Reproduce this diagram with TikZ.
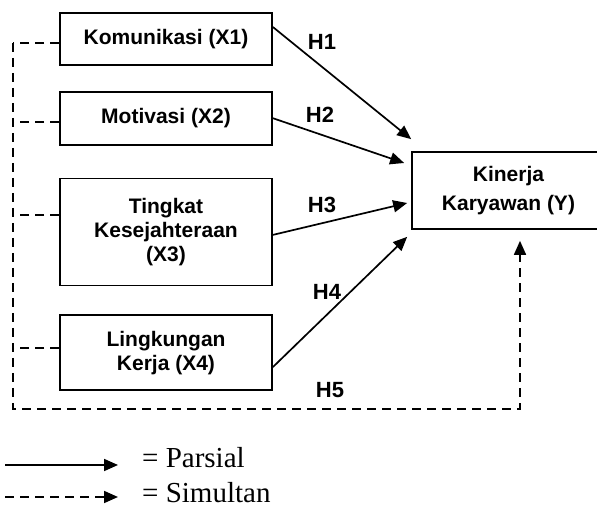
\documentclass[tikz,border=0pt]{standalone}
\usepackage{fontspec}
\setmainfont{Liberation Sans}
\newfontfamily\legendfont{Liberation Serif}
\usetikzlibrary{positioning,arrows.meta}

\begin{document}
\begin{tikzpicture}[x=1pt,y=1pt,
    var/.style={draw,line width=1.7pt,minimum width=212pt,inner sep=0pt,align=center,
        font=\fontsize{21}{24}\selectfont\bfseries},
    parsial/.style={line width=1.7pt,-{Triangle[length=14pt,width=12pt]}},
    simul/.style={line width=1.7pt,dash pattern=on 9pt off 6pt},
    hlabel/.style={font=\fontsize{22}{24}\selectfont\bfseries},
    legend/.style={font=\legendfont\fontsize{29}{30}\selectfont,anchor=base west,inner sep=0pt}]
\useasboundingbox (0,0) rectangle (597,514);
% variabel
\node[var,minimum height=52pt] (x1) at (166,475) {Komunikasi (X1)};
\node[var,minimum height=53pt,below=25pt of x1] (x2) {Motivasi (X2)};
\node[var,minimum height=107pt,below=32pt of x2] (x3) {Tingkat\\Kesejahteraan\\(X3)};
\node[var,minimum height=75pt,below=28pt of x3] (x4) {Lingkungan\\Kerja (X4)};
\node[var,draw=none,minimum width=191pt,minimum height=75pt,font=\fontsize{21}{29}\selectfont\bfseries] (y) at (508.5,323.5) {Kinerja\\Karyawan (Y)};
\draw[line width=1.7pt] ([xshift=200]y.north west) -- (y.north west) -- (y.south west) -- ++(200,0);
% parsial
\draw[parsial] ([yshift=12]x1.east) -- ([shift={(-1,13)}]y.north west);
\draw[parsial] (x2.east) -- ([shift={(-8,27.5)}]y.west);
\draw[parsial] ([yshift=-3]x3.east) -- ([shift={(-5,-12.5)}]y.west);
\draw[parsial] ([yshift=-14.5]x4.east) -- ([shift={(-5,-8)}]y.south west);
\node[hlabel] (h1) at (322,472) {H1};
\node[hlabel] (h2) at (320,399) {H2};
\node[hlabel] (h3) at (322,309) {H3};
\node[hlabel] (h4) at (327,222) {H4};
\node[hlabel] (h5) at (330,124) {H5};
% simultan
\coordinate (b1) at (13,471);
\coordinate (b2) at (13,392);
\coordinate (b3) at (13,299);
\coordinate (b4) at (13,166);
\coordinate (b5) at (13,105);
\coordinate (b6) at (520,105);
\draw[simul] (x1.west |- b1) -- (b1);
\draw[simul] (x2.west |- b2) -- (b2);
\draw[simul] (x3.west |- b3) -- (b3);
\draw[simul] (x4.west |- b4) -- (b4);
\draw[simul,-{Triangle[length=14pt,width=12pt]}] (b1) -- (b5) -- (b6) -- ([yshift=-12]b6 |- y.south);
% keterangan
\coordinate (lp0) at (5,49);
\coordinate (lp1) at (118,49);
\coordinate (ls0) at (5,17);
\coordinate (ls1) at (118,17);
\draw[parsial] (lp0) -- (lp1);
\draw[simul,-{Triangle[length=14pt,width=12pt]}] (ls0) -- (ls1);
\node[legend] (lp) at (142,46) {= Parsial};
\node[legend] (ls) at (142,11) {= Simultan};
\end{tikzpicture}
\end{document}
